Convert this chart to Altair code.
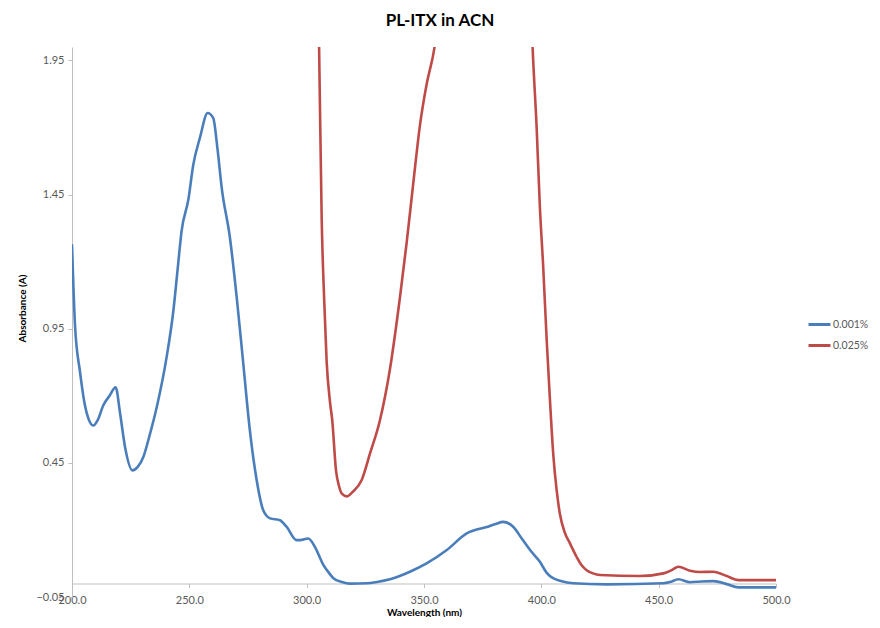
import altair as alt
import pandas as pd

# 0.001% series (wavelength nm, absorbance)
blue_nm = [200.0, 201.3, 203.4, 205.5, 207.0, 209.1, 211.0, 213.3, 216.0, 218.6,
           220.5, 222.6, 225.8, 228.0, 230.4, 233.0, 236.1, 240.3, 243.2, 245.0,
           246.7, 249.6, 251.7, 254.5, 257.8, 260.2, 262.0, 263.8, 267.3, 270.2,
           273.0, 275.8, 278.7, 281.5, 284.4, 288.6, 291.5, 295.7, 297.2, 300.7,
           303.5, 307.1, 309.5, 311.4, 315.0, 318.5, 325.6, 330.0, 335.5, 344.0,
           351.1, 359.7, 368.2, 376.7, 380.5, 383.8, 388.1, 391.5, 395.2, 399.4,
           402.3, 405.0, 407.9, 413.6, 427.8, 452.0, 455.0, 458.4, 463.4, 468.0,
           473.3, 479.0, 483.9, 500.0]
blue_abs = [1.265, 0.960, 0.790, 0.665, 0.615, 0.589, 0.610, 0.664, 0.700, 0.732,
            0.634, 0.509, 0.422, 0.435, 0.472, 0.550, 0.657, 0.843, 1.017, 1.170,
            1.314, 1.432, 1.562, 1.661, 1.754, 1.735, 1.620, 1.475, 1.289, 1.066,
            0.819, 0.571, 0.385, 0.273, 0.243, 0.236, 0.211, 0.162, 0.162, 0.168,
            0.137, 0.070, 0.040, 0.020, 0.006, 0.000, 0.001, 0.006, 0.016, 0.044,
            0.075, 0.125, 0.187, 0.211, 0.222, 0.230, 0.211, 0.170, 0.125, 0.081,
            0.040, 0.020, 0.011, 0.001, -0.003, 0.001, 0.006, 0.016, 0.005, 0.008,
            0.009, -0.002, -0.014, -0.014]

# 0.025% series (off-scale values above 2.0 are clipped, as in the original)
red_nm = [304.0, 305.3, 306.4, 307.5, 308.5, 309.9, 310.9, 312.5, 313.9, 315.0,
          317.1, 319.5, 323.4, 327.0, 331.2, 335.5, 339.8, 342.6, 345.4, 348.3,
          351.1, 354.4, 356.0, 370.0, 385.0, 394.0, 396.3, 398.0, 399.4, 400.8,
          402.3, 403.7, 405.1, 406.5, 407.9, 410.0, 412.2, 415.0, 417.0, 419.3,
          422.0, 425.0, 442.0, 452.0, 455.5, 458.4, 463.4, 467.6, 473.3, 479.0,
          483.9, 500.0]
red_abs = [2.600, 1.995, 1.360, 1.050, 0.830, 0.680, 0.608, 0.422, 0.360, 0.335,
           0.325, 0.341, 0.385, 0.485, 0.608, 0.800, 1.070, 1.270, 1.490, 1.710,
           1.860, 1.995, 2.100, 2.600, 2.800, 2.600, 1.995, 1.700, 1.400, 1.180,
           0.905, 0.680, 0.480, 0.350, 0.260, 0.190, 0.150, 0.100, 0.070, 0.050,
           0.038, 0.032, 0.028, 0.038, 0.050, 0.063, 0.048, 0.043, 0.044, 0.028,
           0.013, 0.013]

series_names = ["0.001%", "0.025%"]
series_colors = ["#4A7EBB", "#BE4B48"]
x_ticks = [200, 250, 300, 350, 400, 450, 500]
y_ticks = [-0.05, 0.45, 0.95, 1.45, 1.95]

df = pd.concat([
    pd.DataFrame({"nm": blue_nm, "A": blue_abs, "series": series_names[0], "order": range(len(blue_nm))}),
    pd.DataFrame({"nm": red_nm, "A": red_abs, "series": series_names[1], "order": range(len(red_nm))}),
])

FONT = "Lato"
GREY = "#595959"
AXIS_GREY = "#BFBFBF"

chart = alt.Chart(df).mark_line(clip=True, strokeWidth=2.6, interpolate="monotone").encode(
    x=alt.X("nm:Q",
            scale=alt.Scale(domain=[200, 500], nice=False, zero=False),
            axis=alt.Axis(values=x_ticks, format=".1f", title="Wavelength (nm)",
                          offset=-13.5, grid=False, domainColor=AXIS_GREY,
                          tickColor=AXIS_GREY, tickSize=4, labelPadding=7,
                          labelColor=GREY, labelFontSize=11, labelFont=FONT,
                          titleFont=FONT, titleFontSize=10, titleFontWeight="bold",
                          titleColor="#000000", titleY=29, titleBaseline="middle",
                          labelFlush=False)),
    y=alt.Y("A:Q",
            scale=alt.Scale(domain=[-0.05, 2.0], nice=False, zero=False),
            axis=alt.Axis(values=y_ticks, format=".2f", title="Absorbance (A)",
                          grid=False, domainColor=AXIS_GREY, tickColor=AXIS_GREY,
                          tickSize=4, labelPadding=4, labelColor=GREY,
                          labelFontSize=11, labelFont=FONT, titleFont=FONT,
                          titleFontSize=10, titleFontWeight="bold",
                          titleColor="#000000", titleAngle=-90, titleX=-50,
                          titleY=261, titleAlign="center", titleBaseline="middle")),
    color=alt.Color("series:N",
                    scale=alt.Scale(domain=series_names, range=series_colors),
                    legend=alt.Legend(title=None, orient="none", legendX=735,
                                      legendY=265, symbolType="stroke",
                                      symbolSize=484, symbolStrokeWidth=3,
                                      rowPadding=2, labelFontSize=10.5,
                                      labelColor=GREY, labelFont=FONT,
                                      labelOffset=1, padding=0)),
    order="order:Q",
).properties(
    width=704,
    height=550,
    autosize=alt.AutoSizeParams(type="none"),
    padding={"left": 64, "top": 39, "right": 96, "bottom": 20},
    title=alt.TitleParams("PL-ITX in ACN", font=FONT, fontSize=17,
                          fontWeight="bold", color="#000000", anchor="middle",
                          dx=16, offset=17),
).configure_view(stroke=None)

chart.save("out.html", embed_options={"renderer": "svg", "actions": False})
